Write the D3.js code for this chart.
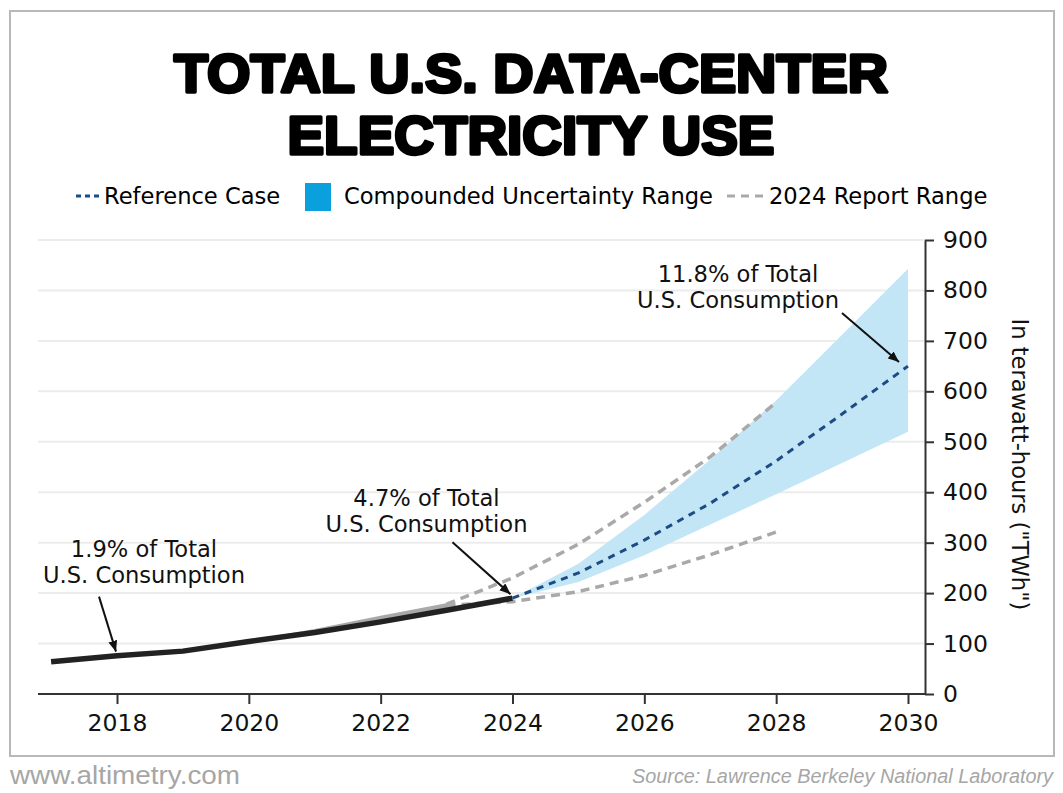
<!DOCTYPE html>
<html>
<head>
<meta charset="utf-8">
<script src="https://cdn.jsdelivr.net/npm/d3@7"></script>
<style>
  body { margin: 0; background: #fff; }
  text { font-family: 'DejaVu Sans', sans-serif; }
</style>
</head>
<body>
<div class="canvas"></div>
<script>
// historical consumption (TWh)
const histYears = [2017, 2018, 2019, 2020, 2021, 2022, 2023, 2024];
const histValues = [64, 76, 85, 104, 122, 143, 166, 190];

// older estimate of the same years, drawn as the grey sliver above the black line
const oldHistYears = [2020, 2021, 2022, 2023];
const oldHistValues = [104, 127, 153, 178];

// projections
const projYears = [2024, 2025, 2026, 2027, 2028, 2029, 2030];
const referenceCase = [190, 240, 305, 378, 462, 555, 650];
const uncertaintyLow = [190, 222, 275, 336, 396, 458, 520];
const uncertaintyHigh = [190, 258, 355, 465, 582, 712, 843];

const reportYears = [2023, 2024, 2025, 2026, 2027, 2028];
const reportLow = [176, 183, 203, 235, 276, 321];
const reportHigh = [178, 230, 297, 380, 470, 578];

const xTicks = [2018, 2020, 2022, 2024, 2026, 2028, 2030];
const yTicks = [0, 100, 200, 300, 400, 500, 600, 700, 800, 900];

const calloutText = [
  ['1.9% of Total', 'U.S. Consumption'],
  ['4.7% of Total', 'U.S. Consumption'],
  ['11.8% of Total', 'U.S. Consumption'],
];
const calloutYears = [2018, 2024, 2030];
const calloutValues = [76, 190, 650];

const legendLabels = ['Reference Case', 'Compounded Uncertainty Range', '2024 Report Range'];

const COLOR = {
  black: '#222222',
  navy: '#1d4c85',
  band: '#c3e6f6',
  legendBlue: '#0aa0de',
  gray: '#a9a9a9',
  grid: '#ececec',
  axis: '#333333',
  footer: '#a6a6a6',
};

const W = 1063;
const H = 793;
const plotLeft = 38;
const plotRight = 925;
const labelSize = '22.6px';
const tickSize = '23.5px';

const x = d3.scaleLinear().domain([2018, 2030]).range([117, 908]);
const y = d3.scaleLinear().domain([0, 900]).range([694, 240]);

const svg = d3
  .select('.canvas')
  .append('svg')
  .attr('width', W)
  .attr('height', H);

svg
  .append('defs')
  .append('marker')
  .attr('id', 'arrowHead')
  .attr('markerUnits', 'userSpaceOnUse')
  .attr('markerWidth', 12)
  .attr('markerHeight', 10)
  .attr('refX', 11)
  .attr('refY', 4.5)
  .attr('orient', 'auto')
  .append('path')
  .attr('d', 'M0,0 L11,4.5 L0,9 z')
  .attr('fill', '#111');

const frameDrawing = () => {
  svg
    .append('rect')
    .attr('x', 10)
    .attr('y', 11)
    .attr('width', 1044)
    .attr('height', 745)
    .attr('fill', 'none')
    .attr('stroke', '#b8b8b8')
    .attr('stroke-width', 2);
};

const titleDrawing = () => {
  const lines = [
    { text: 'TOTAL U.S. DATA-CENTER', y: 92, len: 714 },
    { text: 'ELECTRICITY USE', y: 153.5, len: 487 },
  ];
  svg
    .append('g')
    .attr('id', 'title')
    .selectAll('text')
    .data(lines)
    .join('text')
    .attr('x', 531)
    .attr('y', d => d.y)
    .attr('text-anchor', 'middle')
    .attr('textLength', d => d.len)
    .attr('lengthAdjust', 'spacingAndGlyphs')
    .style('font-family', "'Liberation Sans', Arial, sans-serif")
    .style('font-weight', 'bold')
    .style('font-size', '54.5px')
    .attr('fill', '#000')
    .attr('stroke', '#000')
    .attr('stroke-width', 3.4)
    .attr('stroke-linejoin', 'round')
    .text(d => d.text);
};

const legendDrawing = () => {
  const g = svg.append('g').attr('id', 'legend');
  const cy = 196;

  g.append('line')
    .attr('x1', 76)
    .attr('x2', 101)
    .attr('y1', cy)
    .attr('y2', cy)
    .attr('stroke', COLOR.navy)
    .attr('stroke-width', 3)
    .attr('stroke-dasharray', '5,4');
  g.append('text')
    .attr('x', 104)
    .attr('y', cy + 8)
    .style('font-size', labelSize)
    .text(legendLabels[0]);

  g.append('rect')
    .attr('x', 305)
    .attr('y', 183)
    .attr('width', 26)
    .attr('height', 28)
    .attr('fill', COLOR.legendBlue);
  g.append('text')
    .attr('x', 344)
    .attr('y', cy + 8)
    .style('font-size', labelSize)
    .text(legendLabels[1]);

  g.append('line')
    .attr('x1', 727)
    .attr('x2', 764)
    .attr('y1', cy)
    .attr('y2', cy)
    .attr('stroke', COLOR.gray)
    .attr('stroke-width', 3)
    .attr('stroke-dasharray', '8,6');
  g.append('text')
    .attr('x', 769)
    .attr('y', cy + 8)
    .style('font-size', labelSize)
    .text(legendLabels[2]);
};

const gridDrawing = () => {
  svg
    .append('g')
    .attr('id', 'grid')
    .selectAll('line')
    .data(yTicks.filter(v => v > 0))
    .join('line')
    .attr('x1', plotLeft)
    .attr('x2', plotRight)
    .attr('y1', d => y(d))
    .attr('y2', d => y(d))
    .attr('stroke', COLOR.grid)
    .attr('stroke-width', 2);
};

const seriesDrawing = () => {
  const proj = projYears.map((yr, i) => ({
    yr,
    ref: referenceCase[i],
    lo: uncertaintyLow[i],
    hi: uncertaintyHigh[i],
  }));

  const band = d3
    .area()
    .x(d => x(d.yr))
    .y0(d => y(d.lo))
    .y1(d => y(d.hi));

  svg
    .append('path')
    .datum(proj)
    .attr('d', band)
    .attr('fill', COLOR.band);

  // grey sliver between the old and new historical estimates
  const oldHist = oldHistYears.map((yr, i) => ({
    yr,
    hi: oldHistValues[i],
    lo: histValues[histYears.indexOf(yr)],
  }));
  svg
    .append('path')
    .datum(oldHist)
    .attr(
      'd',
      d3
        .area()
        .x(d => x(d.yr))
        .y0(d => y(d.lo))
        .y1(d => y(d.hi))
    )
    .attr('fill', COLOR.gray)
    .attr('stroke', COLOR.gray)
    .attr('stroke-width', 2);

  const reportLine = values =>
    d3
      .line()
      .x((d, i) => x(reportYears[i]))
      .y(d => y(d))(values);

  svg
    .append('g')
    .attr('id', 'reportRange')
    .selectAll('path')
    .data([reportLow, reportHigh])
    .join('path')
    .attr('d', reportLine)
    .attr('fill', 'none')
    .attr('stroke', COLOR.gray)
    .attr('stroke-width', 3.5)
    .attr('stroke-dasharray', '9,6');

  const hist = histYears.map((yr, i) => ({ yr, v: histValues[i] }));
  svg
    .append('path')
    .datum(hist)
    .attr(
      'd',
      d3
        .line()
        .x(d => x(d.yr))
        .y(d => y(d.v))
    )
    .attr('fill', 'none')
    .attr('stroke', COLOR.black)
    .attr('stroke-width', 5.5)
    .attr('stroke-linejoin', 'round');

  svg
    .append('path')
    .datum(proj)
    .attr(
      'd',
      d3
        .line()
        .x(d => x(d.yr))
        .y(d => y(d.ref))
    )
    .attr('fill', 'none')
    .attr('stroke', COLOR.navy)
    .attr('stroke-width', 3)
    .attr('stroke-dasharray', '7,6');
};

const axisDrawing = () => {
  const xAxis = svg
    .append('g')
    .attr('id', 'xAxis')
    .attr('transform', `translate(0,${y(0)})`)
    .call(d3.axisBottom(x).tickValues(xTicks).tickSize(10).tickSizeOuter(0).tickFormat(d3.format('d')));
  xAxis.select('.domain').remove();
  xAxis
    .append('line')
    .attr('x1', plotLeft)
    .attr('x2', plotRight)
    .attr('stroke', COLOR.axis)
    .attr('stroke-width', 2);
  xAxis.selectAll('.tick line').attr('stroke', COLOR.axis).attr('stroke-width', 2);
  xAxis
    .selectAll('.tick text')
    .attr('y', 37)
    .attr('dy', 0)
    .attr('fill', '#111')
    .style('font-family', "'DejaVu Sans', sans-serif")
    .style('font-size', tickSize);

  const yAxis = svg
    .append('g')
    .attr('id', 'yAxis')
    .attr('transform', `translate(${plotRight},0)`)
    .call(d3.axisRight(y).tickValues(yTicks).tickSize(9).tickSizeOuter(0));
  yAxis.select('.domain').attr('stroke', COLOR.axis).attr('stroke-width', 2);
  yAxis.selectAll('.tick line').attr('stroke', COLOR.axis).attr('stroke-width', 2);
  yAxis
    .selectAll('.tick text')
    .attr('x', 18)
    .attr('fill', '#111')
    .style('font-family', "'DejaVu Sans', sans-serif")
    .style('font-size', tickSize);

  svg
    .append('text')
    .attr('transform', `translate(1012,${y(455)}) rotate(90)`)
    .attr('text-anchor', 'middle')
    .style('font-size', labelSize)
    .attr('fill', '#111')
    .text('In terawatt-hours ("TWh")');
};

// pixel offsets of callout text and arrows from the point they label
const calloutLayout = [
  { dx: 27, dy: -99, tail: [-18, -59], tip: [-1, -4] },
  { dx: -86, dy: -92, tail: [-60, -56], tip: [-2, -4] },
  { dx: -170, dy: -84, tail: [-66, -53], tip: [-9, -4] },
];

const calloutDrawing = () => {
  calloutText.forEach((lines, i) => {
    const px = x(calloutYears[i]);
    const py = y(calloutValues[i]);
    const lay = calloutLayout[i];
    const g = svg.append('g').attr('class', 'callout');

    g.selectAll('text')
      .data(lines)
      .join('text')
      .attr('x', px + lay.dx)
      .attr('y', (d, j) => py + lay.dy + j * 26)
      .attr('text-anchor', 'middle')
      .style('font-size', labelSize)
      .attr('fill', '#111')
      .text(d => d);

    g.append('line')
      .attr('x1', px + lay.tail[0])
      .attr('y1', py + lay.tail[1])
      .attr('x2', px + lay.tip[0])
      .attr('y2', py + lay.tip[1])
      .attr('stroke', '#111')
      .attr('stroke-width', 2)
      .attr('marker-end', 'url(#arrowHead)');
  });
};

const footerDrawing = () => {
  svg
    .append('text')
    .attr('x', 10)
    .attr('y', 784)
    .attr('textLength', 230)
    .attr('lengthAdjust', 'spacingAndGlyphs')
    .style('font-family', "'Liberation Sans', Arial, sans-serif")
    .style('font-size', '26px')
    .attr('fill', COLOR.footer)
    .text('www.altimetry.com');

  svg
    .append('text')
    .attr('x', 1053)
    .attr('y', 783)
    .attr('text-anchor', 'end')
    .attr('textLength', 421)
    .attr('lengthAdjust', 'spacingAndGlyphs')
    .style('font-family', "'Liberation Sans', Arial, sans-serif")
    .style('font-style', 'italic')
    .style('font-size', '20px')
    .attr('fill', COLOR.footer)
    .text('Source: Lawrence Berkeley National Laboratory');
};

frameDrawing();
titleDrawing();
legendDrawing();
gridDrawing();
seriesDrawing();
axisDrawing();
calloutDrawing();
footerDrawing();
</script>
</body>
</html>
